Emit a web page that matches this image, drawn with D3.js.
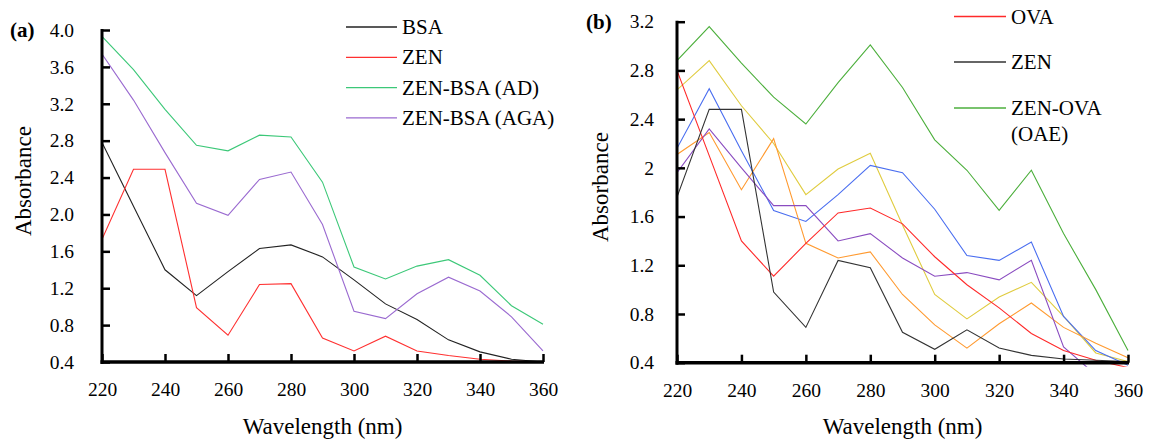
<!DOCTYPE html>
<html><head><meta charset="utf-8">
<script src="https://cdn.jsdelivr.net/npm/d3@7"></script>
<style>
body{margin:0;background:#fff;}
svg{display:block;}
</style></head>
<body><svg id="c" width="1150" height="441"></svg>
<script>
const FONT = '"Liberation Serif", Tinos, "Times New Roman", Times, "DejaVu Serif", "Noto Serif", serif';
const wavelengths = [220,230,240,250,260,270,280,290,300,310,320,330,340,350,360];
const xTicks = [220,240,260,280,300,320,340,360];
const yTicksA = [0.4,0.8,1.2,1.6,2.0,2.4,2.8,3.2,3.6,4.0];
const yTicksB = [0.4,0.8,1.2,1.6,2.0,2.4,2.8,3.2];

// Panel (a)
const bsaA   = [2.78,2.09,1.40,1.12,1.38,1.63,1.67,1.54,1.29,1.03,0.86,0.64,0.51,0.43,0.40];
const zenA   = [1.73,2.49,2.49,0.99,0.69,1.24,1.25,0.66,0.52,0.68,0.52,0.47,0.43,0.41,0.40];
const adA    = [3.93,3.57,3.14,2.75,2.69,2.86,2.84,2.35,1.43,1.30,1.44,1.51,1.34,1.01,0.81];
const agaA   = [3.74,3.24,2.67,2.12,1.99,2.38,2.46,1.89,0.95,0.87,1.14,1.32,1.17,0.89,0.52];

// Panel (b)
const ovaB    = [2.80,2.10,1.40,1.11,1.38,1.63,1.67,1.54,1.27,1.04,0.85,0.64,0.50,0.42,0.36];
const zenB    = [1.76,2.48,2.48,0.98,0.69,1.24,1.18,0.65,0.51,0.67,0.52,0.46,0.43,0.42,0.41];
const oaeB    = [2.88,3.16,2.86,2.58,2.36,2.70,3.01,2.66,2.23,1.98,1.65,1.98,1.46,1.00,0.50];
const blueB   = [2.16,2.65,2.14,1.65,1.56,1.78,2.02,1.96,1.66,1.28,1.24,1.39,0.78,0.50,0.38];
const yellowB = [2.64,2.88,2.51,2.20,1.78,1.99,2.12,1.53,0.96,0.76,0.94,1.06,0.78,0.48,0.41];
const orangeB = [2.11,2.29,1.82,2.24,1.38,1.26,1.31,0.96,0.71,0.52,0.72,0.89,0.69,0.56,0.44];
const purpleB = [1.96,2.32,2.00,1.69,1.69,1.40,1.46,1.26,1.11,1.14,1.08,1.24,0.53,0.30,0.30];

const seriesA = [
  {name:"BSA", values:bsaA, color:"#222222"},
  {name:"ZEN", values:zenA, color:"#ff3030"},
  {name:"ZEN-BSA (AD)", values:adA, color:"#3cc878"},
  {name:"ZEN-BSA (AGA)", values:agaA, color:"#9a6ad0"}
];
const seriesB = [
  {name:"OAE", values:oaeB, color:"#4caf3c"},
  {name:"yellow", values:yellowB, color:"#e0cc40"},
  {name:"blue", values:blueB, color:"#4a6ef0"},
  {name:"orange", values:orangeB, color:"#ff9a30"},
  {name:"purple", values:purpleB, color:"#8a4cc0"},
  {name:"OVA", values:ovaB, color:"#ff2a2a"},
  {name:"ZEN", values:zenB, color:"#333333"}
];
const legendB = [
  {label:["OVA"], color:"#ff2a2a"},
  {label:["ZEN"], color:"#333333"},
  {label:["ZEN-OVA","(OAE)"], color:"#4caf3c"}
];

const svg = d3.select("#c");

function T(sel, size){
  return sel.attr("font-family",FONT).style("font-family",FONT).attr("font-size",size).style("font-size",size+"px").attr("fill","#000");
}

function panel(opt){
  const x = d3.scaleLinear().domain([220,360]).range([opt.x0,opt.x1]);
  const y = d3.scaleLinear().domain([0.4,opt.ymax]).range([opt.y0,opt.y1]);
  const g = svg.append("g");
  const clipId = "clip"+opt.id;
  svg.append("clipPath").attr("id",clipId).append("rect")
     .attr("x",opt.x0).attr("y",opt.y1-5).attr("width",opt.x1-opt.x0+3).attr("height",opt.y0-opt.y1+9);
  const line = d3.line().x((d,i)=>x(wavelengths[i])).y(d=>y(d));
  const lg = g.append("g").attr("clip-path","url(#"+clipId+")");
  opt.series.forEach(s=>{
    lg.append("path").attr("d",line(s.values)).attr("fill","none")
      .attr("stroke",s.color).attr("stroke-width",1.1);
  });
  const xa = g.append("g").attr("transform","translate(0,"+opt.y0+")")
    .call(d3.axisBottom(x).tickValues(xTicks).tickSize(-8).tickPadding(20).tickFormat(d3.format("d")));
  const ya = g.append("g").attr("transform","translate("+opt.x0+",0)")
    .call(d3.axisLeft(y).tickValues(opt.yTicks).tickSize(-8).tickPadding(opt.pad).tickFormat(opt.fmt));
  [xa,ya].forEach(a=>{
    a.attr("font-family",FONT);
    a.select(".domain").remove();
    a.selectAll(".tick line").attr("stroke","#000").attr("stroke-width",2.5);
    T(a.selectAll(".tick text"),19.5);
  });
  g.append("line").attr("x1",opt.x0).attr("x2",opt.x0).attr("y1",opt.y1-1).attr("y2",opt.y0+2)
    .attr("stroke","#000").attr("stroke-width",3);
  g.append("line").attr("x1",opt.x0-1.5).attr("x2",opt.x1+1).attr("y1",opt.y0).attr("y2",opt.y0)
    .attr("stroke","#000").attr("stroke-width",3.5);
  T(g.append("text").attr("x",(opt.x0+opt.x1)/2).attr("y",434).attr("text-anchor","middle"),23)
    .text("Wavelength (nm)");
  T(g.append("text").attr("transform","translate("+opt.ytx+","+opt.yty+") rotate(-90)")
    .attr("text-anchor","start"),23).text("Absorbance");
  T(g.append("text").attr("x",opt.labx).attr("y",opt.laby),21)
    .style("font-weight","bold").text(opt.label);
  return {x,y};
}

panel({id:"a",x0:102,x1:543,y0:362,y1:30,ymax:4.0,yTicks:yTicksA,fmt:d3.format(".1f"),pad:28,
  series:seriesA,ytx:31,yty:236,label:"(a)",labx:10,laby:37});
panel({id:"b",x0:677,x1:1128,y0:362.7,y1:21.7,ymax:3.2,yTicks:yTicksB,fmt:d=>d3.format(".1f")(d).replace(/\.0$/,""),pad:23,
  series:seriesB,ytx:608,yty:242,label:"(b)",labx:586,laby:29});

const legA = svg.append("g");
seriesA.forEach((s,i)=>{
  const yy = 27 + i*30.3;
  legA.append("line").attr("x1",346).attr("x2",397).attr("y1",yy).attr("y2",yy)
    .attr("stroke",s.color).attr("stroke-width",1.3);
  T(legA.append("text").attr("x",402).attr("y",yy+7),21).text(s.name);
});
const legB = svg.append("g");
const legYs = [16.5,62,108];
legendB.forEach((s,i)=>{
  const yy = legYs[i];
  legB.append("line").attr("x1",954).attr("x2",1006).attr("y1",yy).attr("y2",yy)
    .attr("stroke",s.color).attr("stroke-width",1.3);
  s.label.forEach((t,j)=>{
    T(legB.append("text").attr("x",1011).attr("y",yy+7+j*26),21).text(t);
  });
});
</script></body></html>
